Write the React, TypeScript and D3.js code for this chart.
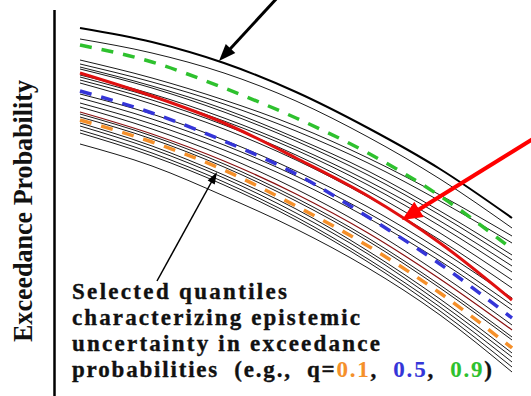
import React from "react";
import * as d3 from "d3";

const W = 531;
const H = 396;

// x positions (arbitrary ground-motion index) at which every curve is sampled
const xValues = [0, 1, 2, 3, 4, 5, 6];

// exceedance curves (relative units)
const topCurve = [3.72, 3.58, 3.37, 3.08, 2.72, 2.31, 1.82];
const q90 = [3.55, 3.38, 3.12, 2.82, 2.47, 2.04, 1.51];
const meanCurve = [3.27, 3.04, 2.77, 2.42, 2.04, 1.57, 1.0];
const q50 = [3.09, 2.87, 2.59, 2.26, 1.83, 1.36, 0.82];
const q10 = [2.8, 2.58, 2.3, 1.94, 1.54, 1.07, 0.52];
const darkRedCurve = [2.88, 2.66, 2.39, 2.06, 1.67, 1.21, 0.7];

const blackCurves: number[][] = [
  [3.61, 3.47, 3.27, 2.99, 2.63, 2.21, 1.72],
  [3.4, 3.22, 3.0, 2.74, 2.42, 2.05, 1.64],
  [3.36, 3.18, 2.96, 2.69, 2.37, 1.99, 1.57],
  [3.33, 3.14, 2.91, 2.62, 2.29, 1.89, 1.45],
  [3.31, 3.12, 2.88, 2.59, 2.25, 1.85, 1.4],
  [3.25, 3.06, 2.82, 2.53, 2.19, 1.79, 1.34],
  [3.23, 3.03, 2.79, 2.5, 2.15, 1.74, 1.28],
  [3.2, 3.0, 2.75, 2.45, 2.09, 1.67, 1.2],
  [3.17, 2.96, 2.71, 2.4, 2.03, 1.6, 1.12],
  [3.06, 2.86, 2.6, 2.29, 1.93, 1.5, 1.02],
  [3.02, 2.81, 2.55, 2.24, 1.87, 1.44, 0.95],
  [2.97, 2.76, 2.5, 2.19, 1.82, 1.39, 0.9],
  [2.93, 2.71, 2.44, 2.11, 1.72, 1.26, 0.75],
  [2.86, 2.64, 2.36, 2.02, 1.62, 1.15, 0.63],
  [2.83, 2.61, 2.33, 1.99, 1.59, 1.12, 0.6],
  [2.77, 2.54, 2.25, 1.91, 1.49, 1.01, 0.47],
  [2.74, 2.51, 2.22, 1.87, 1.46, 0.97, 0.43],
  [2.7, 2.47, 2.18, 1.83, 1.41, 0.93, 0.38],
  [2.67, 2.44, 2.15, 1.8, 1.38, 0.89, 0.33],
  [2.56, 2.34, 2.04, 1.71, 1.32, 0.85, 0.28],
];

const yLabel = "Exceedance Probability";
const noteLines = [
  "Selected quantiles",
  "characterizing epistemic",
  "uncertainty in exceedance",
];
const noteLast = "probabilities  (e.g.,  q=";
const quantileLabels = ["0.1", "0.5", "0.9"];

const ORANGE = "#f5902a";
const BLUE = "#3535d8";
const GREEN = "#2ec12e";
const RED = "#e01010";

const x = d3.scaleLinear().domain([0, 6]).range([80, 512]);
const y = d3.scaleLinear().domain([0, 4]).range([400, 0]);

const line = d3
  .line<number>()
  .x((_, i) => x(xValues[i]))
  .y((d) => y(d))
  .curve(d3.curveMonotoneX);

function Arrow({
  x1,
  y1,
  x2,
  y2,
  width,
  head,
  half,
  color,
}: {
  x1: number;
  y1: number;
  x2: number;
  y2: number;
  width: number;
  head: number;
  half: number;
  color: string;
}) {
  const dx = x2 - x1;
  const dy = y2 - y1;
  const len = Math.hypot(dx, dy);
  const ux = dx / len;
  const uy = dy / len;
  const bx = x2 - ux * head;
  const by = y2 - uy * head;
  const px = -uy * half;
  const py = ux * half;
  return (
    <g>
      <line x1={x1} y1={y1} x2={bx + ux * 2} y2={by + uy * 2} stroke={color} strokeWidth={width} />
      <polygon
        points={`${x2},${y2} ${bx + px},${by + py} ${bx - px},${by - py}`}
        fill={color}
      />
    </g>
  );
}

export default function App() {
  const font = "'Liberation Serif', 'Times New Roman', serif";
  return (
    <svg
      width={W}
      height={H}
      style={{ position: "absolute", left: 0, top: 0, background: "#fff" }}
    >
      {/* y axis */}
      <line x1={54.5} y1={10} x2={54.5} y2={396} stroke="#000" strokeWidth={2.5} />
      <text
        transform={`translate(32,${211}) rotate(-90)`}
        textAnchor="middle"
        fontFamily={font}
        fontWeight="bold"
        fontSize={27}
        textLength={262}
        lengthAdjust="spacingAndGlyphs"
        fill="#111"
      >
        {yLabel}
      </text>

      {/* thin black curves */}
      {blackCurves.map((c, i) => (
        <path key={i} d={line(c) ?? ""} fill="none" stroke="#1a1a1a" strokeWidth={1} />
      ))}
      <path d={line(topCurve) ?? ""} fill="none" stroke="#000" strokeWidth={2} />
      <path d={line(darkRedCurve) ?? ""} fill="none" stroke="#8a1010" strokeWidth={1.2} />

      {/* mean / highlighted */}
      <path d={line(meanCurve) ?? ""} fill="none" stroke={RED} strokeWidth={3} />

      {/* quantiles */}
      <path d={line(q90) ?? ""} fill="none" stroke={GREEN} strokeWidth={3.5} strokeDasharray="12 10" />
      <path d={line(q50) ?? ""} fill="none" stroke={BLUE} strokeWidth={3.5} strokeDasharray="12 10" />
      <path d={line(q10) ?? ""} fill="none" stroke={ORANGE} strokeWidth={3.5} strokeDasharray="12 10" />

      {/* arrows */}
      <Arrow x1={278} y1={-3} x2={219} y2={61} width={3} head={17} half={6.5} color="#000" />
      <Arrow x1={536} y1={137} x2={402} y2={220} width={4} head={20} half={9} color="#ff0000" />
      <Arrow x1={157} y1={281} x2={217} y2={172} width={1.5} head={12} half={4} color="#000" />

      {/* annotation */}
      <g stroke="#111" strokeWidth={0.35}>
        {noteLines.map((t, i) => (
          <text
            key={i}
            x={72}
            y={299 + i * 26}
            fontFamily={font}
            fontWeight="bold"
            fontSize={23}
            fill="#111"
            textLength={[215, 288, 308][i]}
            lengthAdjust="spacing"
          >
            {t}
          </text>
        ))}
        <text
          x={72}
          y={377}
          fontFamily={font}
          fontWeight="bold"
          fontSize={23}
          fill="#111"
          textLength={420}
          lengthAdjust="spacing"
          style={{ whiteSpace: "pre" }}
        >
          {noteLast}
          <tspan fill={ORANGE} stroke={ORANGE} strokeWidth={0.1}>{quantileLabels[0]}</tspan>
          {",  "}
          <tspan fill={BLUE} stroke={BLUE} strokeWidth={0.1}>{quantileLabels[1]}</tspan>
          {",  "}
          <tspan fill={GREEN} stroke={GREEN} strokeWidth={0.1}>{quantileLabels[2]}</tspan>
          {")"}
        </text>
      </g>
    </svg>
  );
}
